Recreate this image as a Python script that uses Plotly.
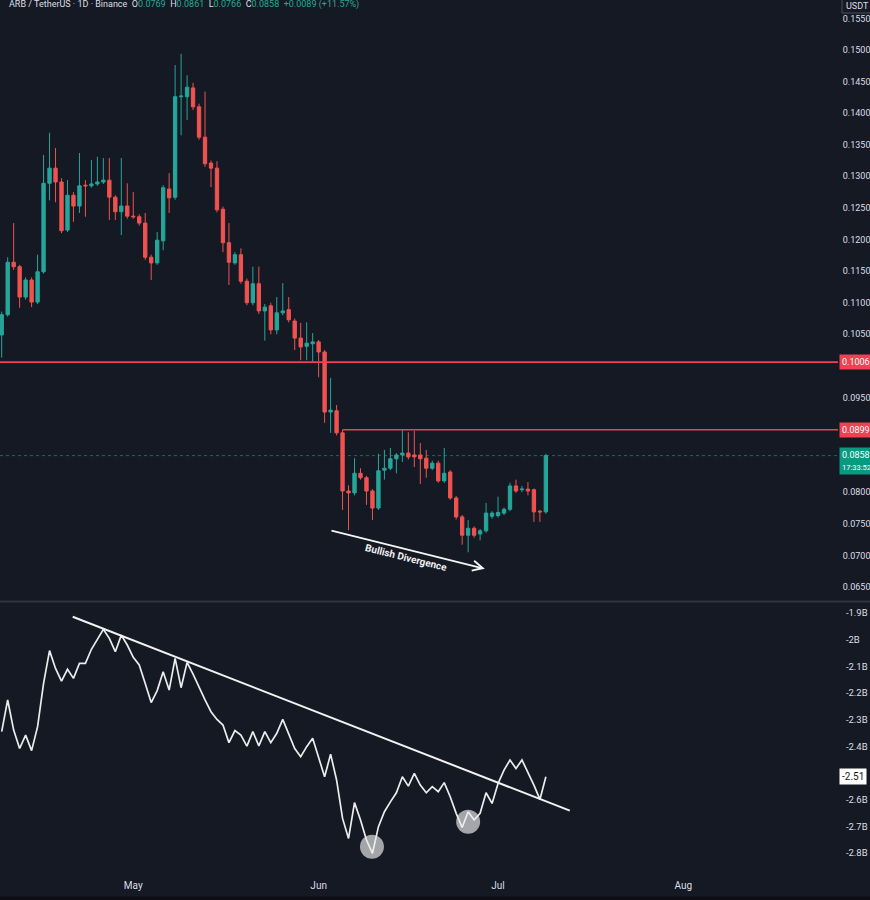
import plotly.graph_objects as go
import pandas as pd

# ---------------- data ----------------
start_date = "2025-04-09"
n_days = 92
dates = pd.date_range(start_date, periods=n_days, freq="D")

opens = [0.1049, 0.1081, 0.1164, 0.1157, 0.1109, 0.1136, 0.1101, 0.1149, 0.1289, 0.1313,
         0.1291, 0.1215, 0.1270, 0.1253, 0.1286, 0.1285, 0.1288, 0.1291, 0.1294, 0.1267,
         0.1244, 0.1253, 0.1237, 0.1236, 0.1226, 0.1172, 0.1163, 0.1198, 0.1280, 0.1267,
         0.1426, 0.1426, 0.1440, 0.1410, 0.1362, 0.1321, 0.1313, 0.1248, 0.1195, 0.1163,
         0.1176, 0.1134, 0.1100, 0.1130, 0.1087, 0.1095, 0.1057, 0.1084, 0.1089, 0.1071,
         0.1044, 0.1031, 0.1035, 0.1038, 0.1022, 0.0927, 0.0929, 0.0894, 0.0802, 0.0799,
         0.0830, 0.0823, 0.0802, 0.0775, 0.0835, 0.0838, 0.0853, 0.0859, 0.0862, 0.0859,
         0.0859, 0.0854, 0.0838, 0.0846, 0.0818, 0.0832, 0.0791, 0.0761, 0.0732, 0.0743,
         0.0734, 0.0739, 0.0762, 0.0763, 0.0767, 0.0773, 0.0810, 0.0804, 0.0805, 0.0804,
         0.0770, 0.0769]
highs = [0.1086, 0.1172, 0.1226, 0.1160, 0.1140, 0.1140, 0.1176, 0.1334, 0.1369, 0.1345,
         0.1297, 0.1294, 0.1275, 0.1337, 0.1294, 0.1326, 0.1331, 0.1329, 0.1329, 0.1270,
         0.1329, 0.1289, 0.1275, 0.1240, 0.1242, 0.1176, 0.1212, 0.1286, 0.1305, 0.1476,
         0.1494, 0.1460, 0.1448, 0.1415, 0.1434, 0.1325, 0.1324, 0.1252, 0.1226, 0.1180,
         0.1186, 0.1138, 0.1157, 0.1157, 0.1098, 0.1100, 0.1109, 0.1131, 0.1109, 0.1075,
         0.1068, 0.1069, 0.1052, 0.1041, 0.1025, 0.0981, 0.0938, 0.0899, 0.0811, 0.0854,
         0.0838, 0.0826, 0.0805, 0.0861, 0.0867, 0.0870, 0.0862, 0.0899, 0.0895, 0.0897,
         0.0878, 0.0867, 0.0850, 0.0850, 0.0870, 0.0835, 0.0794, 0.0764, 0.0756, 0.0746,
         0.0742, 0.0783, 0.0770, 0.0793, 0.0776, 0.0815, 0.0820, 0.0810, 0.0816, 0.0806,
         0.0772, 0.0861]
lows = [0.1013, 0.1078, 0.1152, 0.1092, 0.1105, 0.1093, 0.1098, 0.1146, 0.1262, 0.1259,
        0.1210, 0.1212, 0.1228, 0.1242, 0.1236, 0.1282, 0.1285, 0.1288, 0.1231, 0.1231,
        0.1207, 0.1233, 0.1233, 0.1222, 0.1168, 0.1136, 0.1160, 0.1183, 0.1242, 0.1263,
        0.1365, 0.1389, 0.1405, 0.1358, 0.1315, 0.1283, 0.1243, 0.1180, 0.1128, 0.1160,
        0.1130, 0.1096, 0.1096, 0.1082, 0.1040, 0.1050, 0.1050, 0.1080, 0.1069, 0.1025,
        0.1009, 0.1009, 0.1005, 0.0982, 0.0910, 0.0894, 0.0890, 0.0772, 0.0740, 0.0795,
        0.0820, 0.0780, 0.0756, 0.0772, 0.0820, 0.0835, 0.0830, 0.0848, 0.0852, 0.0840,
        0.0813, 0.0823, 0.0835, 0.0815, 0.0815, 0.0788, 0.0757, 0.0717, 0.0705, 0.0728,
        0.0724, 0.0736, 0.0758, 0.0760, 0.0764, 0.0770, 0.0799, 0.0800, 0.0795, 0.0753,
        0.0753, 0.0766]
closes = [0.1081, 0.1164, 0.1157, 0.1109, 0.1136, 0.1101, 0.1149, 0.1289, 0.1313, 0.1291,
          0.1214, 0.1270, 0.1253, 0.1285, 0.1285, 0.1288, 0.1291, 0.1294, 0.1267, 0.1244,
          0.1253, 0.1237, 0.1236, 0.1226, 0.1172, 0.1163, 0.1199, 0.1282, 0.1266, 0.1426,
          0.1427, 0.1441, 0.1410, 0.1362, 0.1320, 0.1313, 0.1247, 0.1195, 0.1164, 0.1176,
          0.1134, 0.1100, 0.1130, 0.1087, 0.1093, 0.1057, 0.1084, 0.1087, 0.1073, 0.1044,
          0.1030, 0.1036, 0.1038, 0.1022, 0.0927, 0.0930, 0.0894, 0.0802, 0.0799, 0.0830,
          0.0823, 0.0802, 0.0775, 0.0834, 0.0838, 0.0853, 0.0859, 0.0862, 0.0856, 0.0856,
          0.0853, 0.0838, 0.0846, 0.0818, 0.0830, 0.0791, 0.0761, 0.0732, 0.0743, 0.0732,
          0.0739, 0.0767, 0.0767, 0.0768, 0.0773, 0.0810, 0.0802, 0.0805, 0.0802, 0.0769,
          0.0769, 0.0858]

# indicator (billions)
flow = [-2.345, -2.226, -2.339, -2.408, -2.358, -2.416, -2.326, -2.164, -2.041, -2.108,
        -2.155, -2.111, -2.145, -2.089, -2.089, -2.036, -1.999, -1.961, -1.995, -2.045,
        -1.983, -2.020, -2.066, -2.095, -2.164, -2.236, -2.191, -2.120, -2.189, -2.070,
        -2.180, -2.085, -2.129, -2.179, -2.226, -2.270, -2.299, -2.320, -2.386, -2.341,
        -2.358, -2.399, -2.345, -2.398, -2.345, -2.386, -2.351, -2.299, -2.355, -2.408,
        -2.439, -2.401, -2.370, -2.439, -2.514, -2.429, -2.526, -2.670, -2.745, -2.611,
        -2.676, -2.751, -2.801, -2.701, -2.645, -2.608, -2.574, -2.514, -2.549, -2.501,
        -2.545, -2.574, -2.551, -2.570, -2.536, -2.589, -2.651, -2.704, -2.645, -2.676,
        -2.651, -2.574, -2.614, -2.539, -2.489, -2.451, -2.483, -2.451, -2.495, -2.545,
        -2.599, -2.514]

resistance_levels = [0.1006, 0.0899]
resistance_start_index = 57  # second level starts at this candle

trend_x = ["2025-04-20 21:00", "2025-07-13 00:00"]
trend_y = [-1.914, -2.641]
circle_x = ["2025-06-09 22:00", "2025-06-26 00:00"]
circle_y = [-2.776, -2.683]
div_x = ["2025-06-02 21:30", "2025-06-28 19:00"]
div_y = [0.0740, 0.0679]
div_label_x = "2025-06-15 14:00"
div_label_y = 0.0696
countdown = "17:33:52"

price_ticks = [0.065, 0.070, 0.075, 0.080, 0.095, 0.105, 0.110, 0.115, 0.120, 0.125,
               0.130, 0.135, 0.140, 0.145, 0.150, 0.155]
price_tick_text = ["%.4f" % v for v in price_ticks]
flow_ticks = [-1.9, -2.0, -2.1, -2.2, -2.3, -2.4, -2.6, -2.7, -2.8]
flow_tick_text = ["-1.9B", "-2B", "-2.1B", "-2.2B", "-2.3B",
                  "-2.4B", "-2.6B", "-2.7B", "-2.8B"]
month_ticks = ["2025-05-01", "2025-06-01", "2025-07-01", "2025-08-01"]
month_labels = ["May", "Jun", "Jul", "Aug"]

x_range = ["2025-04-08 17:10", "2025-08-26 20:25"]
price_range = [0.06279, 0.15791]
flow_range = [-2.871, -1.8625]

# ---------------- style ----------------
W, H = 870, 900
BG = "#151924"
GREEN = "#26a69a"
RED = "#ef5350"
LINE_RED = "#f23f52"
LABEL_GREEN = "#089981"
TXT = "#dcdfe6"
FONT = "Roboto"
XR = 838 / W

fig = go.Figure()

fig.add_trace(go.Candlestick(
    x=dates, open=opens, high=highs, low=lows, close=closes,
    xaxis="x", yaxis="y",
    increasing=dict(line=dict(color=GREEN, width=1), fillcolor=GREEN),
    decreasing=dict(line=dict(color=RED, width=1), fillcolor=RED),
    whiskerwidth=0, showlegend=False, hoverinfo="skip"))

fig.add_trace(go.Scatter(
    x=circle_x, y=circle_y, mode="markers", xaxis="x2", yaxis="y2",
    marker=dict(size=24, color="rgba(205,205,205,0.78)", line=dict(width=0)),
    showlegend=False, hoverinfo="skip"))

fig.add_trace(go.Scatter(
    x=dates, y=flow, mode="lines", xaxis="x2", yaxis="y2",
    line=dict(color="#ececec", width=1.7), showlegend=False, hoverinfo="skip"))

fig.add_trace(go.Scatter(
    x=trend_x, y=trend_y, mode="lines", xaxis="x2", yaxis="y2",
    line=dict(color="#f2f2f2", width=2), showlegend=False, hoverinfo="skip"))

shapes = []
shapes.append(dict(type="line", xref="paper", yref="y", x0=0, x1=XR,
                   y0=resistance_levels[0], y1=resistance_levels[0],
                   line=dict(color=LINE_RED, width=1.6), layer="above"))
shapes.append(dict(type="line", xref="x", yref="y",
                   x0=dates[resistance_start_index], x1=x_range[1],
                   y0=resistance_levels[1], y1=resistance_levels[1],
                   line=dict(color=LINE_RED, width=1.6), layer="above"))
shapes.append(dict(type="line", xref="paper", yref="y", x0=0, x1=XR,
                   y0=closes[-1], y1=closes[-1],
                   line=dict(color="rgba(38,166,154,0.55)", width=1, dash="dot"),
                   layer="below"))
shapes.append(dict(type="line", xref="paper", yref="paper", x0=0, x1=1,
                   y0=1 - 601.5 / H, y1=1 - 601.5 / H,
                   line=dict(color="#2f333e", width=2), layer="above"))
shapes.append(dict(type="rect", xref="paper", yref="paper", x0=0, x1=1,
                   y0=0, y1=3.5 / H, fillcolor="#0d0f15", line=dict(width=0),
                   layer="above"))
shapes.append(dict(type="rect", xref="paper", yref="paper", x0=842 / W, x1=1.02,
                   y0=1 - 13 / H, y1=1.02, fillcolor="#161a25",
                   line=dict(color="#4a4e59", width=1), layer="above"))
fig.update_layout(shapes=shapes)

chg = closes[-1] - closes[-2]
ann = []
hdr = ("ARB / TetherUS \u00b7 1D \u00b7 Binance&nbsp;&nbsp;"
       "O<span style='color:#22ab94'>%.4f</span>&nbsp;&nbsp;"
       "H<span style='color:#22ab94'>%.4f</span>&nbsp;&nbsp;"
       "L<span style='color:#22ab94'>%.4f</span>&nbsp;&nbsp;"
       "C<span style='color:#22ab94'>%.4f</span>&nbsp;&nbsp;"
       "<span style='color:#22ab94'>+%.4f (+%.2f%%)</span>") % (
    opens[-1], highs[-1], lows[-1], closes[-1], chg, chg / closes[-2] * 100)
ann.append(dict(text=hdr, xref="paper", yref="paper", x=7 / W, y=1 - 4 / H,
                xanchor="left", yanchor="middle", showarrow=False,
                font=dict(family=FONT, size=9, color=TXT)))
ann.append(dict(text="USDT", xref="paper", yref="paper", x=857 / W, y=1 - 6 / H,
                xanchor="center", yanchor="middle", showarrow=False,
                font=dict(family=FONT, size=9, color=TXT)))
for lvl in resistance_levels:
    ann.append(dict(text="%.4f" % lvl, xref="paper", yref="y", x=839 / W, y=lvl,
                    xanchor="left", yanchor="middle", showarrow=False,
                    bgcolor=LINE_RED, borderpad=2,
                    font=dict(family=FONT, size=9, color="#ffffff")))
ann.append(dict(text="%.4f<br><span style='font-size:7.5px'>%s</span>" % (closes[-1], countdown),
                xref="paper", yref="y",
                x=839 / W, y=closes[-1], yshift=-5, xanchor="left", yanchor="middle",
                showarrow=False, bgcolor=LABEL_GREEN, borderpad=2, align="left",
                font=dict(family=FONT, size=9, color="#ffffff")))
ann.append(dict(text="-%.2f" % abs(flow[-1]), xref="paper", yref="y2",
                x=839 / W, y=flow[-1], xanchor="left", yanchor="middle",
                showarrow=False, bgcolor="#ffffff", borderpad=2,
                font=dict(family=FONT, size=10, color="#131722")))
ann.append(dict(text="", xref="x", yref="y", x=div_x[1], y=div_y[1],
                axref="x", ayref="y", ax=div_x[0], ay=div_y[0],
                showarrow=True, arrowhead=5, arrowsize=1.1, arrowwidth=1.8,
                arrowcolor="#f5f5f5"))
ann.append(dict(text="<b>Bullish Divergence</b>", xref="x", yref="y",
                x=div_label_x, y=div_label_y, textangle=14, showarrow=False,
                font=dict(family=FONT, size=10, color="#f0f0f0")))
fig.update_layout(annotations=ann)

price_font = dict(family=FONT, size=9, color=TXT)
axis_font = dict(family=FONT, size=10, color=TXT)
flow_font = dict(family=FONT, size=9.5, color=TXT)
fig.update_layout(
    width=W, height=H, margin=dict(l=0, r=0, t=0, b=0, autoexpand=False),
    paper_bgcolor=BG, plot_bgcolor=BG, showlegend=False, boxgap=0.2,
    xaxis=dict(domain=[0, XR], range=x_range, type="date", anchor="y",
               showgrid=False, zeroline=False, showticklabels=False, automargin=False,
               showline=False, rangeslider=dict(visible=False), fixedrange=True),
    yaxis=dict(domain=[1 - 601 / H, 1], range=price_range, side="right", anchor="x",
               tickvals=price_ticks, ticktext=price_tick_text, showgrid=False,
               zeroline=False, showline=False, tickfont=price_font, automargin=False,
               ticks="outside", ticklen=2, tickcolor=BG),
    xaxis2=dict(domain=[0, XR], range=x_range, type="date", anchor="y2",
                tickvals=month_ticks, ticktext=month_labels, showgrid=False,
                zeroline=False, showline=False, tickfont=axis_font, automargin=False,
                ticklabelstandoff=6),
    yaxis2=dict(domain=[1 - 872 / H, 1 - 603 / H], range=flow_range, side="right",
                anchor="x2", tickvals=flow_ticks, ticktext=flow_tick_text,
                showgrid=False, zeroline=False, showline=False, tickfont=flow_font,
                automargin=False, ticks="outside", ticklen=5, tickcolor=BG),
)

fig.write_html("out.html")
